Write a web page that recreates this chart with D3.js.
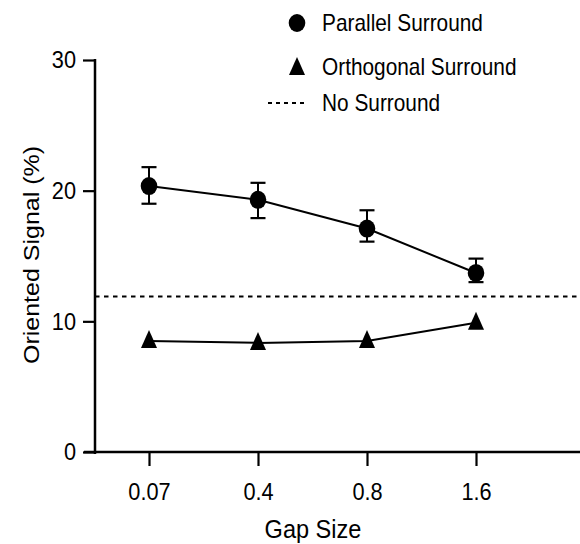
<!DOCTYPE html>
<html><head><meta charset="utf-8">
<script src="https://cdn.jsdelivr.net/npm/d3@7"></script>
<style>
html,body{margin:0;padding:0;background:#fff;}
svg{display:block;font-family:"Liberation Sans",Arial,Helvetica,sans-serif;}
</style></head>
<body><svg id="chart" width="580" height="544"></svg>
<script>
const categories = ["0.07", "0.4", "0.8", "1.6"];
const parallelMean = [20.35, 19.3, 17.1, 13.7];
const parallelHigh = [21.8, 20.6, 18.5, 14.8];
const parallelLow = [19.0, 17.9, 16.1, 13.0];
const orthogonalMean = [8.5, 8.35, 8.5, 9.9];
const noSurround = 11.9;
const yTicks = [0, 10, 20, 30];
const legendLabels = ["Parallel Surround", "Orthogonal Surround", "No Surround"];

const SX = 0.906; // horizontal squeeze of the lettering
const svg = d3.select("#chart");
const x = d3.scalePoint().domain(categories).range([149, 476]);
const y = d3.scaleLinear().domain([0, 30]).range([452, 60]);
const axisX0 = 95, axisRight = 580;

// y axis
const gy = svg.append("g").attr("transform", `translate(${axisX0},0)`)
  .call(d3.axisLeft(y).tickValues(yTicks).tickSize(12).tickSizeOuter(0).tickPadding(9));
gy.select(".domain").remove();
gy.selectAll(".tick line").attr("stroke", "#000").attr("stroke-width", 2.2);
gy.selectAll(".tick text").attr("font-size", 24).attr("fill", "#000")
  .attr("font-family", "Liberation Sans, Arial, sans-serif").attr("transform", `scale(${SX},1)`);
svg.append("line").attr("x1", axisX0).attr("x2", axisX0).attr("y1", y(30) - 1).attr("y2", y(0) + 2)
  .attr("stroke", "#000").attr("stroke-width", 2.5);

// x axis
const gx = svg.append("g").attr("transform", `translate(0,${y(0)})`)
  .call(d3.axisBottom(x).tickSize(14).tickSizeOuter(0).tickPadding(17));
gx.select(".domain").remove();
gx.selectAll(".tick line").attr("stroke", "#000").attr("stroke-width", 2.2);
gx.selectAll(".tick text").attr("font-size", 24).attr("fill", "#000")
  .attr("font-family", "Liberation Sans, Arial, sans-serif").attr("transform", `scale(${SX},1)`);
svg.append("line").attr("x1", 84).attr("x2", axisRight).attr("y1", y(0)).attr("y2", y(0))
  .attr("stroke", "#000").attr("stroke-width", 2.5);

// axis titles
svg.append("text").attr("transform", `translate(313,538) scale(${SX},1)`).attr("text-anchor", "middle")
  .attr("font-size", 26).text("Gap Size");
svg.append("text").attr("transform", `translate(39,255) scale(${SX},1) rotate(-90)`).attr("text-anchor", "middle")
  .attr("font-size", 25).text("Oriented Signal (%)");

// no surround line
svg.append("line").attr("x1", axisX0).attr("x2", axisRight).attr("y1", y(noSurround)).attr("y2", y(noSurround))
  .attr("stroke", "#000").attr("stroke-width", 2).attr("stroke-dasharray", "4.5,4.5");

const line = d3.line().x((d, i) => x(categories[i])).y(d => y(d));

// custom triangle marker (taller than wide)
const triShape = { draw(ctx, size) { const s = Math.sqrt(size) / 12; ctx.moveTo(0, -11 * s); ctx.lineTo(8 * s, 7 * s); ctx.lineTo(-8 * s, 7 * s); ctx.closePath(); } };
const tri = d3.symbol().type(triShape).size(144);

// orthogonal
svg.append("path").datum(orthogonalMean).attr("d", line).attr("fill", "none").attr("stroke", "#000").attr("stroke-width", 2);
svg.selectAll(".tri").data(orthogonalMean).enter().append("path")
  .attr("transform", (d, i) => `translate(${x(categories[i])},${y(d)})`).attr("d", tri).attr("fill", "#000");

// parallel
svg.append("path").datum(parallelMean).attr("d", line).attr("fill", "none").attr("stroke", "#000").attr("stroke-width", 2);
const eb = svg.selectAll(".eb").data(categories).enter().append("g");
eb.append("line").attr("x1", d => x(d)).attr("x2", d => x(d))
  .attr("y1", (d, i) => y(parallelHigh[i])).attr("y2", (d, i) => y(parallelLow[i])).attr("stroke", "#000").attr("stroke-width", 2);
eb.append("line").attr("x1", d => x(d) - 7.5).attr("x2", d => x(d) + 7.5)
  .attr("y1", (d, i) => y(parallelHigh[i])).attr("y2", (d, i) => y(parallelHigh[i])).attr("stroke", "#000").attr("stroke-width", 2.2);
eb.append("line").attr("x1", d => x(d) - 7.5).attr("x2", d => x(d) + 7.5)
  .attr("y1", (d, i) => y(parallelLow[i])).attr("y2", (d, i) => y(parallelLow[i])).attr("stroke", "#000").attr("stroke-width", 2.2);
svg.selectAll(".circ").data(parallelMean).enter().append("ellipse")
  .attr("cx", (d, i) => x(categories[i])).attr("cy", d => y(d)).attr("rx", 8.3).attr("ry", 9).attr("fill", "#000");

// legend
const lg = svg.append("g");
lg.append("ellipse").attr("cx", 297).attr("cy", 23).attr("rx", 8.3).attr("ry", 9).attr("fill", "#000");
lg.append("path").attr("transform", "translate(297,68)").attr("d", tri).attr("fill", "#000");
lg.append("line").attr("x1", 268).attr("x2", 305).attr("y1", 103).attr("y2", 103)
  .attr("stroke", "#000").attr("stroke-width", 2).attr("stroke-dasharray", "4,4");
lg.selectAll("text").data(legendLabels).enter().append("text")
  .attr("transform", (d, i) => `translate(322,${[23, 67, 103][i]}) scale(${SX},1)`).attr("dy", "0.35em")
  .attr("font-size", 23).text(d => d);
</script></body></html>
